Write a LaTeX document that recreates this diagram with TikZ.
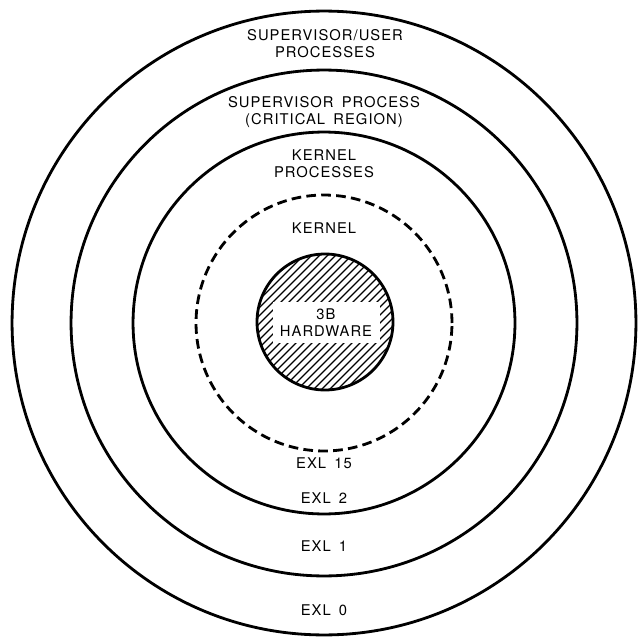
\documentclass[tikz,border=0pt]{standalone}
\usepackage{fontspec}
\setmainfont{TeX Gyre Heros}[LetterSpace=7.0,WordSpace=1.6]
\usepackage{tikz}

\begin{document}
\begin{tikzpicture}[x=0.02cm, y=-0.02cm,
    ring/.style={line width=1.6pt},
    lbl/.style={font=\fontsize{8.4}{9.8}\selectfont, align=center, inner sep=1pt},
    hatch/.style={line width=0.7pt}]
  \useasboundingbox (0,0) rectangle (641,638);
  \coordinate (c) at (324,323);
  % rings
  \draw[ring] (c) circle[radius=6.24cm];
  \draw[ring] (c) circle[radius=5.06cm];
  \draw[ring] (c) circle[radius=3.82cm];
  \draw[ring, dash pattern=on 5.5pt off 3pt] (c) circle[radius=2.56cm];
  % hardware core
  \begin{scope}
    \clip (325,322) circle[radius=1.36cm];
    \foreach \i in {-160,-152,...,160}
      \draw[hatch] (325+\i-90,322+90) -- (325+\i+90,322-90);
  \end{scope}
  \draw[ring] (325,322) circle[radius=1.36cm];
  \fill[white] (273,302) rectangle (380,343);
  \node[lbl] (hw) at (326,323) {3B\\HARDWARE};
  % ring labels
  \node[lbl] (supuser) at (325,44) {SUPERVISOR/USER\\PROCESSES};
  \node[lbl] (supcrit) at (324,112) {SUPERVISOR PROCESS\\(CRITICAL REGION)};
  \node[lbl] (kproc) at (324,164) {KERNEL\\PROCESSES};
  \node[lbl] (kern) at (324,228) {KERNEL};
  \node[lbl] (exl15) at (324,463) {EXL 15};
  \node[lbl] (exl2) at (324,498) {EXL 2};
  \node[lbl] (exl1) at (324,546) {EXL 1};
  \node[lbl] (exl0) at (324,610) {EXL 0};
\end{tikzpicture}
\end{document}
